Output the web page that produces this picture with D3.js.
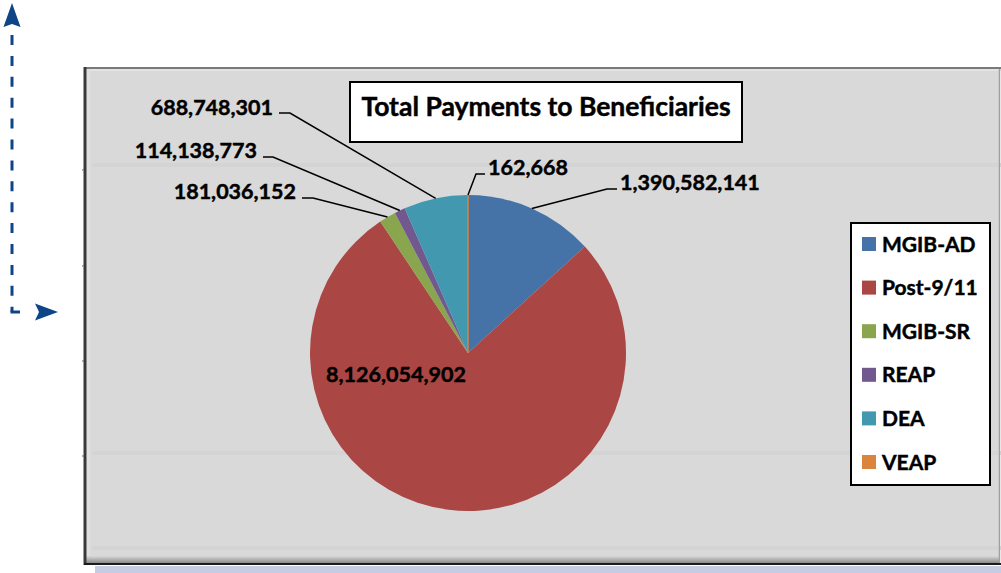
<!DOCTYPE html>
<html>
<head>
<meta charset="utf-8">
<script src="https://cdn.jsdelivr.net/npm/d3@7"></script>
<style>
  html, body { margin: 0; padding: 0; background: #ffffff; }
  svg { display: block; }
  text { font-family: Lato, "Open Sans", sans-serif; font-weight: bold; fill: #000; stroke: #000; stroke-width: 0.45px; }
</style>
</head>
<body>
<script>
// Programs and total payments (USD)
const programs = ["MGIB-AD", "Post-9/11", "MGIB-SR", "REAP", "DEA", "VEAP"];
const payments = [1390582141, 8126054902, 181036152, 114138773, 688748301, 162668];
const sliceColors = ["#4572A7", "#AA4643", "#89A54E", "#71588F", "#4198AF", "#DB843D"];
const chartTitle = "Total Payments to Beneficiaries";

const W = 1001, H = 573;
const svg = d3.select("body").append("svg").attr("width", W).attr("height", H);
const fmt = d3.format(",");

// ---- decorative dashed arrow on the left ----
const arrowColor = "#0E4587";
const arrow = svg.append("g");
arrow.append("path")
  .attr("d", "M12,35 V312")
  .attr("fill", "none").attr("stroke", arrowColor).attr("stroke-width", 3)
  .attr("stroke-dasharray", "10,10.9");
arrow.append("path")
  .attr("d", "M10.5,312 H20")
  .attr("fill", "none").attr("stroke", arrowColor).attr("stroke-width", 3);
arrow.append("path")
  .attr("d", "M12,3 L20.5,27 L12,24 L3.5,27 Z").attr("fill", arrowColor);
arrow.append("path")
  .attr("d", "M58,312 L35,303.5 L39,312 L35,320.5 Z").attr("fill", arrowColor);

// ---- chart frame ----
const frame = { x: 84, y: 67, w: 916, h: 497 };
svg.append("rect").attr("x", 95).attr("y", 566).attr("width", W - 95).attr("height", 7).attr("fill", "#C6CDE3");

const defs = svg.append("defs");
const shadow = defs.append("linearGradient").attr("id", "bottomShade").attr("x1", 0).attr("x2", 0).attr("y1", 0).attr("y2", 1);
shadow.append("stop").attr("offset", 0).attr("stop-color", "#d9d9d9");
shadow.append("stop").attr("offset", 1).attr("stop-color", "#8a8a8a");

svg.append("rect").attr("x", frame.x).attr("y", frame.y).attr("width", frame.w).attr("height", frame.h).attr("fill", "#D9D9D9");
// faint horizontal bands
[165, 453, 548].forEach(y => {
  svg.append("rect").attr("x", 92).attr("y", y - 2).attr("width", W - 92).attr("height", 4).attr("fill", "#d2d2d2").attr("opacity", 0.7);
});
// inner bevel highlights
svg.append("rect").attr("x", frame.x + 2).attr("y", frame.y + 2).attr("width", frame.w).attr("height", 2).attr("fill", "#e2e2e2");
svg.append("rect").attr("x", frame.x + 2).attr("y", frame.y + 2).attr("width", 4).attr("height", frame.h - 4).attr("fill", "#e0e0e0");
svg.append("rect").attr("x", frame.x).attr("y", 556).attr("width", frame.w).attr("height", 7).attr("fill", "url(#bottomShade)");
// borders
svg.append("line").attr("x1", frame.x).attr("x2", W).attr("y1", 68).attr("y2", 68).attr("stroke", "#7a7a7a").attr("stroke-width", 2);
svg.append("line").attr("x1", 85).attr("x2", 85).attr("y1", 67).attr("y2", 565).attr("stroke", "#3a3a3a").attr("stroke-width", 3);
svg.append("line").attr("x1", frame.x).attr("x2", W).attr("y1", 564).attr("y2", 564).attr("stroke", "#1a1a1a").attr("stroke-width", 2);
svg.append("line").attr("x1", 999.5).attr("x2", 999.5).attr("y1", 69).attr("y2", 563).attr("stroke", "#a0a0a0").attr("stroke-width", 1.5);
// small left ticks
[170, 266, 361, 456].forEach(y => {
  svg.append("line").attr("x1", 82).attr("x2", 84).attr("y1", y).attr("y2", y).attr("stroke", "#666").attr("stroke-width", 1);
});

// ---- title box ----
svg.append("rect").attr("x", 350).attr("y", 82).attr("width", 392).attr("height", 60)
  .attr("fill", "#fff").attr("stroke", "#000").attr("stroke-width", 2);
svg.append("text").attr("x", 546).attr("y", 116).attr("text-anchor", "middle")
  .style("font-size", "26.5px").text(chartTitle);

// ---- pie ----
const cx = 468, cy = 353, R = 158;
const data = programs.map((p, i) => ({ name: p, value: payments[i], color: sliceColors[i] }));
const pie = d3.pie().sort(null).value(d => d.value).startAngle(0).endAngle(2 * Math.PI);
const arcs = pie(data);
const arc = d3.arc().innerRadius(0).outerRadius(R);
const g = svg.append("g").attr("transform", `translate(${cx},${cy})`);
g.selectAll("path.slice").data(arcs).join("path")
  .attr("class", "slice")
  .attr("d", arc)
  .attr("fill", d => d.data.color)
  .attr("stroke", d => d.data.name === "VEAP" ? d.data.color : "none")
  .attr("stroke-width", 1);

// label anchor positions (end of leader elbow) and text alignment per program
const labelLayout = {
  "MGIB-AD":  { ex: 607, ey: 189, hx: 617, tx: 620, ty: 190, anchor: "start" },
  "Post-9/11": { inside: true, tx: 396, ty: 382, anchor: "middle" },
  "MGIB-SR":  { ex: 313, ey: 198, hx: 302, tx: 296, ty: 199, anchor: "end" },
  "REAP":     { ex: 273, ey: 157, hx: 263, tx: 257, ty: 158, anchor: "end" },
  "DEA":      { ex: 290, ey: 113, hx: 279, tx: 273, ty: 115, anchor: "end" },
  "VEAP":     { ex: 476, ey: 174, hx: 485, tx: 488, ty: 175, anchor: "start" }
};

arcs.forEach(a => {
  const L = labelLayout[a.data.name];
  if (!L.inside) {
    const mid = (a.startAngle + a.endAngle) / 2;
    const sx = cx + R * Math.sin(mid), sy = cy - R * Math.cos(mid);
    svg.append("path")
      .attr("d", `M${sx},${sy} L${L.ex},${L.ey} L${L.hx},${L.ey}`)
      .attr("fill", "none").attr("stroke", "#000").attr("stroke-width", 1.5);
  }
  svg.append("text").attr("x", L.tx).attr("y", L.ty).attr("text-anchor", L.anchor)
    .style("font-size", "21.5px").text(fmt(a.data.value));
});

// ---- legend ----
const lg = svg.append("g");
lg.append("rect").attr("x", 851).attr("y", 223).attr("width", 139).attr("height", 262)
  .attr("fill", "#fff").attr("stroke", "#000").attr("stroke-width", 2);
const rowY = d3.scalePoint().domain(programs).range([244, 462]);
const items = lg.selectAll("g.item").data(data).join("g").attr("class", "item")
  .attr("transform", d => `translate(0,${rowY(d.name)})`);
items.append("rect").attr("x", 862).attr("y", -7).attr("width", 14).attr("height", 14).attr("fill", d => d.color);
items.append("text").attr("x", 882).attr("y", 7.5).style("font-size", "21px").text(d => d.name);
</script>
</body>
</html>
